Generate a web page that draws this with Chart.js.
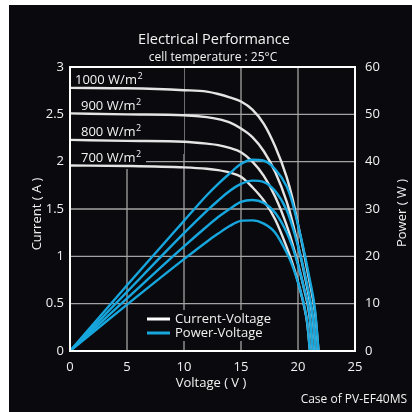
<!DOCTYPE html>
<html lang="en">
<head>
    <meta charset="UTF-8">
    <title>Electrical Performance</title>
    <script src="https://cdn.jsdelivr.net/npm/chart.js@4.4.1/dist/chart.umd.min.js"></script>
    <style>
        html, body { margin: 0; padding: 0; background: #fff; }
        canvas { display: block; }
    </style>
</head>
<body>
    <canvas id="ivChart" width="412" height="412" style="width:412px;height:412px"></canvas>

    <script>
        // Values (voltage in V, current in A, power in W)
        const v1000 = [0, 5, 10, 12, 13, 14, 15, 16, 17, 18, 19, 19.5, 20, 20.5, 21, 21.5, 21.8];
        const i1000 = [2.78, 2.775, 2.755, 2.74, 2.715, 2.68, 2.635, 2.55, 2.40, 2.16, 1.84, 1.62, 1.34, 1.05, 0.74, 0.40, 0];
        const p1000 = [0, 13.9, 27.5, 32.9, 35.3, 37.5, 39.5, 40.4, 40.2, 38.4, 34.8, 31.4, 26.6, 21.4, 15.5, 8.6, 0];

        const v900 = [0, 5, 10, 12, 13, 14, 15, 16, 17, 18, 19, 19.5, 20, 20.5, 21, 21.3, 21.55];
        const i900 = [2.51, 2.50, 2.49, 2.47, 2.45, 2.415, 2.35, 2.26, 2.11, 1.89, 1.58, 1.37, 1.12, 0.85, 0.55, 0.34, 0];
        const p900 = [0, 12.5, 24.9, 29.6, 31.8, 33.8, 35.3, 36.0, 35.7, 33.8, 29.8, 26.4, 22.2, 17.3, 11.6, 7.2, 0];

        const v800 = [0, 5, 10, 12, 13, 14, 15, 16, 17, 18, 19, 19.5, 20, 20.5, 21, 21.3];
        const i800 = [2.23, 2.22, 2.21, 2.19, 2.175, 2.145, 2.10, 2.00, 1.85, 1.63, 1.33, 1.14, 0.92, 0.67, 0.38, 0];
        const p800 = [0, 11.1, 22.1, 26.3, 28.3, 30.0, 31.5, 31.9, 31.3, 29.2, 25.1, 22.1, 18.2, 13.6, 8.0, 0];

        const v700 = [0, 5, 10, 12, 13, 14, 15, 16, 17, 18, 19, 19.5, 20, 20.5, 20.8, 21.05];
        const i700 = [1.96, 1.955, 1.94, 1.925, 1.91, 1.885, 1.84, 1.73, 1.59, 1.39, 1.10, 0.93, 0.73, 0.49, 0.30, 0];
        const p700 = [0, 9.8, 19.4, 23.1, 24.8, 26.4, 27.5, 27.6, 26.9, 25.0, 20.8, 18.1, 14.5, 10.0, 6.2, 0];

        const irradianceLabels = ['1000', '900', '800', '700'];
        const xTicks = [0, 5, 10, 15, 20, 25];
        const currentTicks = [0, 0.5, 1, 1.5, 2, 2.5, 3];
        const powerTicks = [0, 10, 20, 30, 40, 50, 60];

        const FONT = '"Open Sans", "DejaVu Sans", sans-serif';
        const TEXT = '#f2f2f2';
        const BLUE = '#17a7df';
        const WHITE = '#e4e4e4';
        const BG = '#0a0a0e';

        const pairs = (xs, ys) => xs.map((x, k) => ({ x: x, y: ys[k] }));

        function curve(data, color, axis) {
            return {
                data: data,
                yAxisID: axis,
                borderColor: color,
                borderWidth: 2.4,
                pointRadius: 0,
                fill: false,
                cubicInterpolationMode: 'monotone'
            };
        }

        // blue first so it is painted on top of the white ones
        const datasets = [
            curve(pairs(v1000, p1000), BLUE, 'y1'),
            curve(pairs(v900, p900), BLUE, 'y1'),
            curve(pairs(v800, p800), BLUE, 'y1'),
            curve(pairs(v700, p700), BLUE, 'y1'),
            curve(pairs(v1000, i1000), WHITE, 'y'),
            curve(pairs(v900, i900), WHITE, 'y'),
            curve(pairs(v800, i800), WHITE, 'y'),
            curve(pairs(v700, i700), WHITE, 'y')
        ];

        function font(size) { return size + 'px ' + FONT; }

        // text with a superscript "2" after it
        function unitLabel(ctx, value, x, y) {
            ctx.font = font(13);
            ctx.textAlign = 'left';
            ctx.textBaseline = 'alphabetic';
            const main = value + ' W/m';
            ctx.fillText(main, x, y);
            const w = ctx.measureText(main).width;
            ctx.font = font(9);
            ctx.fillText('2', x + w + 0.5, y - 5);
        }

        const decorations = {
            id: 'decorations',
            beforeDraw(chart) {
                const ctx = chart.ctx;
                const a = chart.chartArea;
                const xs = chart.scales.x, ys = chart.scales.y;
                ctx.save();
                ctx.fillStyle = '#ffffff';
                ctx.fillRect(0, 0, chart.width, chart.height);
                ctx.fillStyle = BG;
                ctx.fillRect(9, 5, chart.width - 9, chart.height - 5);

                // grid taken from the scales
                ctx.strokeStyle = '#a4a4a4';
                ctx.lineWidth = 1.3;
                xTicks.forEach(v => {
                    const px = xs.getPixelForValue(v);
                    ctx.beginPath(); ctx.moveTo(px, a.top); ctx.lineTo(px, a.bottom); ctx.stroke();
                });
                currentTicks.forEach(v => {
                    const py = ys.getPixelForValue(v);
                    ctx.beginPath(); ctx.moveTo(a.left, py); ctx.lineTo(a.right, py); ctx.stroke();
                });

                // black patches behind the irradiance labels and the legend
                ctx.fillStyle = BG;
                ctx.fillRect(a.left + 1, a.top + 1, 113, 86);
                ctx.fillRect(a.left + 1, a.top + 80, 75, 22);
                ctx.fillRect(144, 310, 126, 31);
                ctx.restore();
            },
            afterDatasetsDraw(chart) {
                const ctx = chart.ctx;
                const a = chart.chartArea;
                ctx.save();

                // frame
                ctx.strokeStyle = '#ffffff';
                ctx.lineWidth = 2;
                ctx.strokeRect(a.left, a.top, a.right - a.left, a.bottom - a.top);

                ctx.fillStyle = TEXT;

                // irradiance labels
                unitLabel(ctx, irradianceLabels[0], 75, 84);
                unitLabel(ctx, irradianceLabels[1], 81, 110);
                unitLabel(ctx, irradianceLabels[2], 81, 136);
                unitLabel(ctx, irradianceLabels[3], 81, 162);

                // titles
                ctx.textAlign = 'center';
                ctx.textBaseline = 'alphabetic';
                ctx.font = font(14.5);
                ctx.fillText('Electrical Performance', 214, 44);
                ctx.font = font(12);
                ctx.fillText('cell temperature : 25\u00B0C', 213, 61);

                // axis titles
                ctx.font = font(13);
                ctx.textBaseline = 'middle';
                ctx.fillText('Voltage ( V )', 211, 383);
                ctx.save();
                ctx.translate(37, 214);
                ctx.rotate(-Math.PI / 2);
                ctx.fillText('Current ( A )', 0, 0);
                ctx.restore();
                ctx.save();
                ctx.translate(402, 213);
                ctx.rotate(-Math.PI / 2);
                ctx.fillText('Power ( W )', 0, 0);
                ctx.restore();

                // footnote
                ctx.textAlign = 'right';
                ctx.font = font(12);
                ctx.fillText('Case of PV-EF40MS', 407, 400);

                // legend
                ctx.lineWidth = 3;
                ctx.strokeStyle = '#ffffff';
                ctx.beginPath(); ctx.moveTo(147, 319); ctx.lineTo(170, 319); ctx.stroke();
                ctx.strokeStyle = BLUE;
                ctx.beginPath(); ctx.moveTo(147, 333); ctx.lineTo(170, 333); ctx.stroke();
                ctx.textAlign = 'left';
                ctx.font = font(13);
                ctx.fillText('Current-Voltage', 175, 319);
                ctx.fillText('Power-Voltage', 175, 333);

                ctx.restore();
            }
        };

        const tickFont = { family: FONT, size: 13 };
        const noGrid = { display: false, drawTicks: false };
        const plain = v => String(v);

        new Chart(document.getElementById('ivChart'), {
            type: 'line',
            data: { datasets: datasets },
            options: {
                responsive: false,
                animation: false,
                layout: { padding: { top: 67, left: 0, right: 0, bottom: 0 } },
                plugins: {
                    legend: { display: false },
                    tooltip: { enabled: false }
                },
                scales: {
                    x: {
                        type: 'linear',
                        min: 0,
                        max: 25,
                        afterBuildTicks: s => { s.ticks = xTicks.map(v => ({ value: v })); },
                        afterFit: s => { s.height = 61; },
                        grid: noGrid,
                        border: { display: false },
                        ticks: { color: TEXT, font: tickFont, padding: 8, maxRotation: 0, callback: plain }
                    },
                    y: {
                        position: 'left',
                        min: 0,
                        max: 3,
                        afterBuildTicks: s => { s.ticks = currentTicks.map(v => ({ value: v })); },
                        afterFit: s => { s.width = 70; },
                        grid: noGrid,
                        border: { display: false },
                        ticks: { color: TEXT, font: tickFont, padding: 6, callback: plain }
                    },
                    y1: {
                        position: 'right',
                        min: 0,
                        max: 60,
                        afterBuildTicks: s => { s.ticks = powerTicks.map(v => ({ value: v })); },
                        afterFit: s => { s.width = 57; },
                        grid: noGrid,
                        border: { display: false },
                        ticks: { color: TEXT, font: tickFont, padding: 10, callback: plain }
                    }
                }
            },
            plugins: [decorations]
        });
    </script>
</body>
</html>
